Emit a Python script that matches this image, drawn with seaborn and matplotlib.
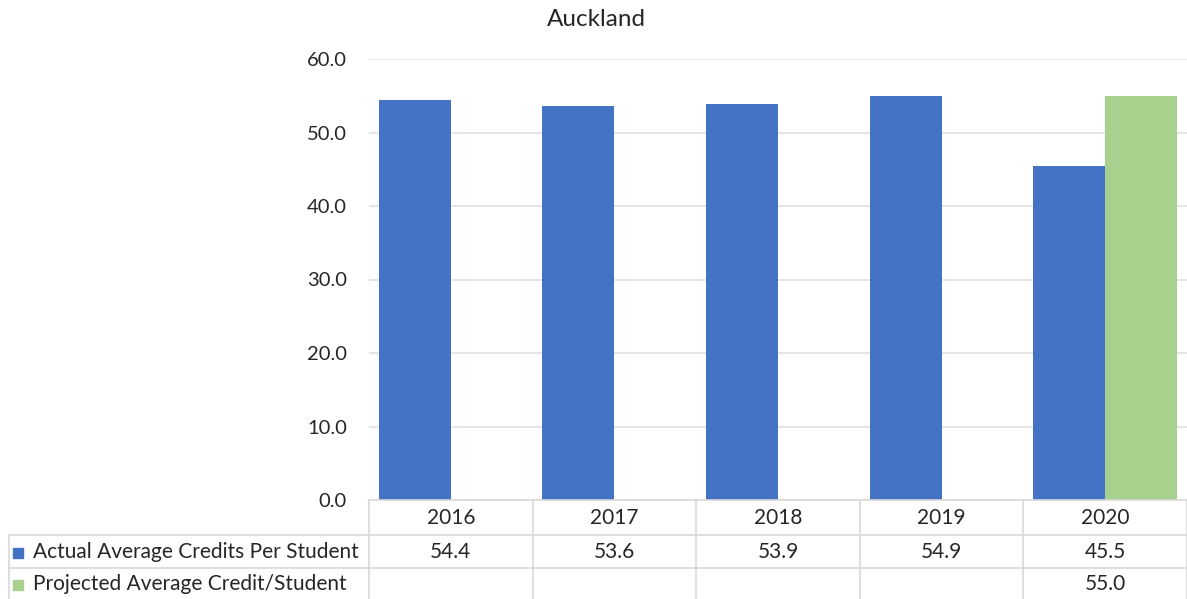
import matplotlib
matplotlib.use("Agg")
import matplotlib.pyplot as plt
import seaborn as sns
import pandas as pd
import numpy as np
from matplotlib.lines import Line2D
from matplotlib.patches import Rectangle

years = ["2016", "2017", "2018", "2019", "2020"]
actual = [54.4, 53.6, 53.9, 54.9, 45.5]
projected = [np.nan, np.nan, np.nan, np.nan, 55.0]
series_names = ["Actual Average Credits Per Student", "Projected Average Credit/Student"]
colors = ["#4472C4", "#A9D18E"]
title = "Auckland"
yticks = [0, 10, 20, 30, 40, 50, 60]

sns.set_theme(style="white")
plt.rcParams['font.family'] = ['Lato', 'DejaVu Sans']

df = pd.DataFrame({
    "year": years * 2,
    "value": actual + projected,
    "series": [series_names[0]] * len(years) + [series_names[1]] * len(years),
})

W, H = 1187, 599
fig = plt.figure(figsize=(W / 100, H / 100), dpi=100)
x0, x1 = 369, 1187
y_top, y_bot = 59, 500
ax = fig.add_axes([x0 / W, 1 - y_bot / H, (x1 - x0) / W, (y_bot - y_top) / H])

sns.barplot(data=df, x="year", y="value", hue="series", palette=colors,
            width=0.88, ax=ax, legend=False, saturation=1, order=years,
            hue_order=series_names, linewidth=0)

ax.set_ylim(0, 60)
ax.set_xlim(-0.5, len(years) - 0.5)
ax.set_yticks(yticks)
ax.set_yticklabels([f"{v:.1f}" for v in yticks], fontsize=14.5, color="#262626")
ax.tick_params(axis="y", length=0, pad=16)
ax.set_xticks([])
ax.set_xlabel("")
ax.set_ylabel("")
ax.grid(axis="y", color="#e0e0e0", linewidth=1.2)
ax.set_axisbelow(True)
for s in ax.spines.values():
    s.set_visible(False)

fig.text(596 / W, 1 - 20 / H, title, ha="center", va="center", fontsize=17.5, color="#262626")

# data table
lc = "#d9d9d9"
def fx(px):
    return px / W
def fy(py):
    return 1 - py / H

col_edges = [x0 + i * (x1 - x0) / len(years) for i in range(len(years) + 1)]
row_edges = [500, 535, 568, 599]
left_edge = 9

fig.add_artist(Line2D([fx(x0), fx(x1)], [fy(row_edges[0])] * 2, color=lc, lw=1.2))
for r in row_edges[1:3]:
    fig.add_artist(Line2D([fx(left_edge), fx(x1)], [fy(r)] * 2, color=lc, lw=1.2))
for c in col_edges:
    fig.add_artist(Line2D([fx(c)] * 2, [fy(row_edges[0]), fy(row_edges[-1])], color=lc, lw=1.2))
fig.add_artist(Line2D([fx(left_edge)] * 2, [fy(row_edges[1]), fy(row_edges[-1])], color=lc, lw=1.2))

fs = 15
for i, yr in enumerate(years):
    cx = (col_edges[i] + col_edges[i + 1]) / 2
    fig.text(fx(cx), fy((row_edges[0] + row_edges[1]) / 2 + 1), yr, ha="center", va="center",
             fontsize=fs, color="#262626")

rows = [actual, projected]
for r, (vals, name, col) in enumerate(zip(rows, series_names, colors)):
    cy = (row_edges[r + 1] + row_edges[r + 2]) / 2 + 1
    fig.add_artist(Rectangle((fx(13), fy(cy + 5)), 10 / W, 10 / H, color=col,
                             transform=fig.transFigure))
    fig.text(fx(33), fy(cy), name, ha="left", va="center", fontsize=fs, color="#262626")
    for i, v in enumerate(vals):
        if not np.isnan(v):
            cx = (col_edges[i] + col_edges[i + 1]) / 2
            fig.text(fx(cx), fy(cy), f"{v:.1f}", ha="center", va="center",
                     fontsize=fs, color="#262626")

fig.savefig("out.png", dpi=100)
